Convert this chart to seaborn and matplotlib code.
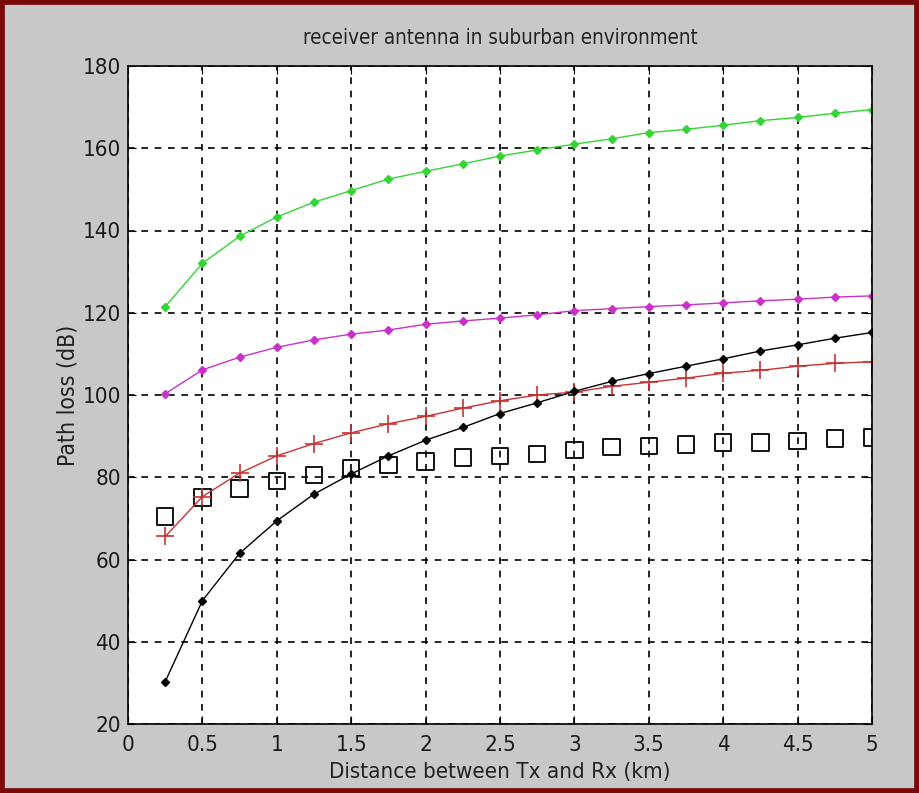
import matplotlib
matplotlib.use("Agg")
import matplotlib.pyplot as plt
from matplotlib.patches import Rectangle
import seaborn as sns
import numpy as np
import pandas as pd

distance_km = [0.25, 0.5, 0.75, 1.0, 1.25, 1.5, 1.75, 2.0, 2.25, 2.5,
               2.75, 3.0, 3.25, 3.5, 3.75, 4.0, 4.25, 4.5, 4.75, 5.0]
green_loss = [121.5, 132.0, 138.6, 143.3, 146.9, 149.7, 152.5, 154.4, 156.2, 158.1,
              159.6, 161.0, 162.3, 163.8, 164.6, 165.6, 166.7, 167.5, 168.5, 169.4]
magenta_loss = [100.3, 106.1, 109.2, 111.6, 113.4, 114.8, 115.8, 117.2, 118.0, 118.7,
                119.5, 120.5, 121.0, 121.5, 121.9, 122.4, 122.9, 123.3, 123.8, 124.1]
red_loss = [65.6, 75.3, 81.0, 85.2, 88.2, 90.8, 93.0, 94.8, 96.8, 98.6,
            100.0, 100.7, 102.1, 103.1, 104.1, 105.3, 106.0, 107.0, 107.7, 108.1]
black_loss = [30.3, 50.0, 61.5, 69.4, 75.9, 80.8, 85.2, 89.0, 92.1, 95.5,
              98.1, 100.9, 103.3, 105.2, 107.0, 108.8, 110.7, 112.2, 113.8, 115.2]
square_loss = [70.5, 75.1, 77.3, 79.1, 80.6, 82.2, 83.0, 83.8, 84.8, 85.2,
               85.6, 86.6, 87.3, 87.6, 88.0, 88.5, 88.5, 88.8, 89.4, 89.7]

x_ticks = [0, 0.5, 1, 1.5, 2, 2.5, 3, 3.5, 4, 4.5, 5]
x_tick_labels = ["0", "0.5", "1", "1.5", "2", "2.5", "3", "3.5", "4", "4.5", "5"]
y_ticks = [20, 40, 60, 80, 100, 120, 140, 160, 180]

sns.set_style("white")
plt.rcParams['font.family'] = ['DejaVu Sans']
plt.rcParams['font.stretch'] = 'condensed'

fig = plt.figure(figsize=(9.19, 7.93), dpi=100, facecolor="#c8c8c8")
ax = fig.add_axes([128/919, 1 - 724/793, (872-128)/919, (724-66)/793])
ax.set_facecolor("white")

def line(y, color, marker, ms, mew=1.0, lw=1.0, mfc=None):
    df = pd.DataFrame({"d": distance_km, "v": y})
    sns.lineplot(data=df, x="d", y="v", ax=ax, color=color, marker=marker,
                 markersize=ms, markeredgewidth=mew, linewidth=lw,
                 markerfacecolor=mfc if mfc else color, markeredgecolor=color,
                 estimator=None, sort=False, legend=False)

line(green_loss, "#33d433", "D", 4.2)
line(magenta_loss, "#c832c8", "D", 4.2)
line(red_loss, "#c83232", "+", 13, mew=1.2)
line(black_loss, "black", "D", 4.2)

sq = pd.DataFrame({"d": distance_km, "v": square_loss})
sns.scatterplot(data=sq, x="d", y="v", ax=ax, marker="s", s=140,
                facecolor="none", edgecolor="black", linewidth=1.3, legend=False)

ax.set_xlim(0, 5)
ax.set_ylim(20, 180)
ax.set_xticks(x_ticks)
ax.set_xticklabels(x_tick_labels)
ax.set_yticks(y_ticks)
ax.grid(True, color="black", linestyle=(0, (4, 4)), linewidth=1.2)
ax.tick_params(direction="in", length=6, color="black", labelsize=16, labelcolor="#1a1a1a",
               top=True, right=True, bottom=True, left=True)
ax.tick_params(axis="x", pad=8)
ax.tick_params(axis="y", pad=5)
for s in ax.spines.values():
    s.set_color("black")
    s.set_linewidth(1.2)
    s.set_visible(True)

ax.set_title("receiver antenna in suburban environment", fontsize=14.8, color="#222222", pad=16)
ax.set_xlabel("Distance between Tx and Rx (km)", fontsize=16, color="#222222", labelpad=5)
ax.set_ylabel("Path loss (dB)", fontsize=16.5, color="#222222", labelpad=2)

fig.patches.append(Rectangle((0, 0), 1, 1, transform=fig.transFigure, fill=False,
                             edgecolor="#7a0a0a", linewidth=7, zorder=10))

fig.savefig("out.png", dpi=100, facecolor=fig.get_facecolor())
